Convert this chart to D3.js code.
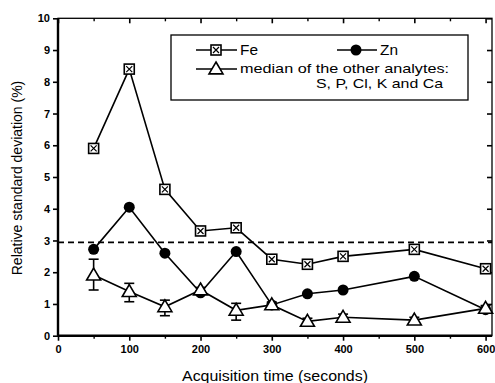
<!DOCTYPE html>
<html><head><meta charset="utf-8">
<script src="https://cdn.jsdelivr.net/npm/d3@7/dist/d3.min.js"></script>
<style>body{margin:0;background:#fff}svg{display:block}text{font-family:"Liberation Sans",Arial,sans-serif;fill:#000}</style>
</head><body><svg id="c" width="495" height="383"></svg>
<script>
const times = [50, 100, 150, 200, 250, 300, 350, 400, 500, 600];
const fe = [5.9, 8.4, 4.61, 3.3, 3.4, 2.41, 2.25, 2.5, 2.72, 2.11];
const zn = [2.72, 4.05, 2.6, 1.35, 2.65, 0.97, 1.32, 1.44, 1.87, 0.82];
const median = [1.91, 1.39, 0.91, 1.44, 0.8, 0.97, 0.45, 0.58, 0.49, 0.86];
const medErrUp = [2.41, 1.65, 1.12, 1.52, 1.02, 1.06, 0.55, 0.68, 0.58, 0.95];
const medErrLo = [1.44, 1.07, 0.63, 1.36, 0.49, 0.88, 0.35, 0.48, 0.4, 0.77];
const threshold = 2.94;
const xTicks = [0, 100, 200, 300, 400, 500, 600];
const xMinor = [50, 150, 250, 350, 450, 550];
const yTicks = [0, 1, 2, 3, 4, 5, 6, 7, 8, 9, 10];

const svg = d3.select("#c");
const L = 58, R = 492, T = 18.3, B = 335.7;
const x = d3.scaleLinear().domain([0, 609]).range([L, R]);
const y = d3.scaleLinear().domain([0, 10]).range([B, T]);

// frame
svg.append("rect").attr("x", L).attr("y", T).attr("width", R - L).attr("height", B - T)
  .attr("fill", "none").attr("stroke", "#000").attr("stroke-width", 1.3);
svg.append("line").attr("x1", L).attr("x2", R).attr("y1", B).attr("y2", B).attr("stroke", "#000").attr("stroke-width", 2.4);
svg.append("line").attr("x1", L).attr("x2", L).attr("y1", T).attr("y2", B).attr("stroke", "#000").attr("stroke-width", 2.4);

// axes
const xAxis = d3.axisBottom(x).tickValues(xTicks).tickSize(5).tickPadding(5).tickFormat(d3.format("d"));
const gx = svg.append("g").attr("transform", `translate(0,${B})`).call(xAxis);
gx.select(".domain").remove();
gx.selectAll("line").attr("stroke-width", 1.6);
gx.selectAll("text").attr("font-size", 11).attr("font-weight", "bold");
const gxm = svg.append("g").attr("transform", `translate(0,${B})`)
  .call(d3.axisBottom(x).tickValues(xMinor).tickSize(3).tickFormat(""));
gxm.select(".domain").remove(); gxm.selectAll("line").attr("stroke-width", 1.4);
const gxt = svg.append("g").attr("transform", `translate(0,${T})`)
  .call(d3.axisBottom(x).tickValues(xTicks).tickSize(5).tickFormat(""));
gxt.select(".domain").remove(); gxt.selectAll("line").attr("stroke-width", 1.6);
const gxtm = svg.append("g").attr("transform", `translate(0,${T})`)
  .call(d3.axisBottom(x).tickValues(xMinor).tickSize(3).tickFormat(""));
gxtm.select(".domain").remove(); gxtm.selectAll("line").attr("stroke-width", 1.4);

const gy = svg.append("g").attr("transform", `translate(${L},0)`)
  .call(d3.axisLeft(y).tickValues(yTicks).tickSize(5).tickPadding(3));
gy.select(".domain").remove();
gy.selectAll("line").attr("stroke-width", 1.6);
gy.selectAll("text").attr("font-size", 11).attr("font-weight", "bold");
const gyr = svg.append("g").attr("transform", `translate(${R},0)`)
  .call(d3.axisLeft(y).tickValues(yTicks).tickSize(5).tickFormat(""));
gyr.select(".domain").remove(); gyr.selectAll("line").attr("stroke-width", 1.6);

// titles
svg.append("text").attr("x", 182).attr("y", 381).attr("font-size", 14)
  .attr("textLength", 186).attr("lengthAdjust", "spacingAndGlyphs").text("Acquisition time (seconds)");
svg.append("text").attr("transform", "translate(22,178) rotate(-90)").attr("text-anchor", "middle").attr("font-size", 14).text("Relative standard deviation (%)");

// threshold
svg.append("line").attr("x1", L).attr("x2", R).attr("y1", y(threshold)).attr("y2", y(threshold))
  .attr("stroke", "#000").attr("stroke-width", 1.7).attr("stroke-dasharray", "6,4");

const line = d3.line().x((d, i) => x(times[i])).y(d => y(d));
function drawLine(vals) {
  svg.append("path").attr("d", line(vals)).attr("fill", "none").attr("stroke", "#000").attr("stroke-width", 1.6);
}
drawLine(fe); drawLine(zn); drawLine(median);

// error bars
times.forEach((t, i) => {
  const cx = x(t);
  const g = svg.append("g").attr("stroke", "#000").attr("stroke-width", 1.6);
  g.append("line").attr("x1", cx).attr("x2", cx).attr("y1", y(medErrUp[i])).attr("y2", y(medErrLo[i]));
  g.append("line").attr("x1", cx - 5).attr("x2", cx + 5).attr("y1", y(medErrUp[i])).attr("y2", y(medErrUp[i]));
  g.append("line").attr("x1", cx - 5).attr("x2", cx + 5).attr("y1", y(medErrLo[i])).attr("y2", y(medErrLo[i]));
});

function feMarker(g, cx, cy) {
  const s = 5;
  g.append("rect").attr("x", cx - s).attr("y", cy - s).attr("width", 2 * s).attr("height", 2 * s)
    .attr("fill", "#fff").attr("stroke", "#000").attr("stroke-width", 1.6);
  g.append("path").attr("d", `M${cx-3},${cy-3}L${cx+3},${cy+3}M${cx+3},${cy-3}L${cx-3},${cy+3}`)
    .attr("stroke", "#000").attr("stroke-width", 1.2);
}
function znMarker(g, cx, cy) {
  g.append("circle").attr("cx", cx).attr("cy", cy).attr("r", 5.5).attr("fill", "#000");
}
function triMarker(g, cx, cy) {
  const s = 7;
  g.append("path").attr("d", `M${cx},${cy - s}L${cx + s},${cy + s*0.7}L${cx - s},${cy + s*0.7}Z`)
    .attr("fill", "#fff").attr("stroke", "#000").attr("stroke-width", 1.6);
}
const gm = svg.append("g");
times.forEach((t, i) => { znMarker(gm, x(t), y(zn[i])); });
times.forEach((t, i) => { triMarker(gm, x(t), y(median[i])); });
times.forEach((t, i) => { feMarker(gm, x(t), y(fe[i])); });

// legend
const lg = svg.append("g");
lg.append("rect").attr("x", 171).attr("y", 35).attr("width", 297).attr("height", 65)
  .attr("fill", "#fff").attr("stroke", "#000").attr("stroke-width", 1.3);
function legLine(x1, x2, yy) {
  lg.append("line").attr("x1", x1).attr("x2", x2).attr("y1", yy).attr("y2", yy).attr("stroke", "#000").attr("stroke-width", 1.6);
}
legLine(196, 237, 50); feMarker(lg, 216, 50);
lg.append("text").attr("x", 240).attr("y", 55).attr("font-size", 14)
  .attr("textLength", 18).attr("lengthAdjust", "spacingAndGlyphs").text("Fe");
legLine(337, 377, 50); znMarker(lg, 356, 50);
lg.append("text").attr("x", 380).attr("y", 55).attr("font-size", 14)
  .attr("textLength", 18).attr("lengthAdjust", "spacingAndGlyphs").text("Zn");
legLine(196, 237, 69); triMarker(lg, 216, 69);
lg.append("text").attr("x", 240).attr("y", 73).attr("font-size", 13.5)
  .attr("textLength", 209).attr("lengthAdjust", "spacingAndGlyphs").text("median of the other analytes:");
lg.append("text").attr("x", 316).attr("y", 88).attr("font-size", 13.5)
  .attr("textLength", 127).attr("lengthAdjust", "spacingAndGlyphs").text("S, P, Cl, K and Ca");
</script></body></html>
